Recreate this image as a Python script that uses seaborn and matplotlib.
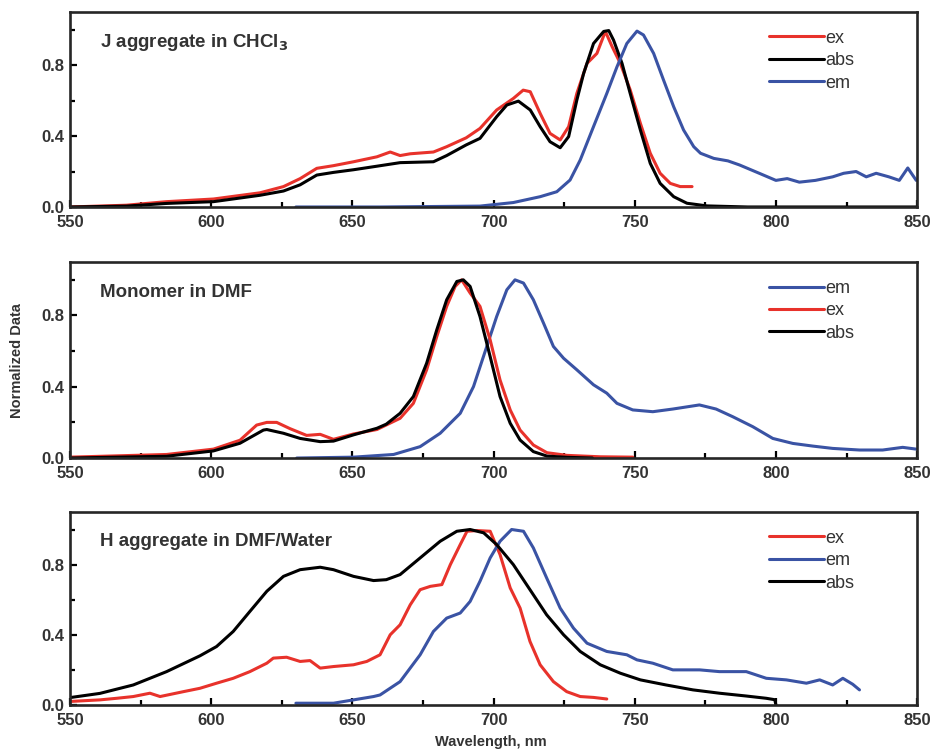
import matplotlib
matplotlib.use("Agg")
import matplotlib.pyplot as plt
from matplotlib.ticker import MultipleLocator
import seaborn as sns

# ---- Panel 1: J aggregate in CHCl3 ----
j_ex_x = [550, 570, 584.2, 600.8, 617.3, 625.6, 631.5, 637.4, 643.3, 650.4, 658.7, 663.4, 666.9, 670.5, 678.7,
          683.4, 690.3, 695.2, 701.1, 707, 710.5, 713, 716.5, 720, 723.6, 726.6, 729.5, 733.1, 736.6, 739.6,
          742, 744.9, 748.4, 752, 755.5, 759, 762.6, 766.1, 770.3]
j_ex_y = [0.0, 0.01, 0.03, 0.045, 0.08, 0.115, 0.16, 0.218, 0.233, 0.255, 0.283, 0.31, 0.29, 0.30, 0.31,
          0.34, 0.39, 0.443, 0.547, 0.612, 0.659, 0.65, 0.528, 0.415, 0.378, 0.453, 0.641, 0.81, 0.866, 0.99,
          0.904, 0.81, 0.66, 0.472, 0.303, 0.19, 0.133, 0.115, 0.115]
j_abs_x = [550, 570, 584.2, 600.8, 617.3, 625.6, 631.5, 637.4, 643.3, 650.4, 658.7, 666.9, 678.7, 683.4, 690.3,
           695.2, 701.1, 704.7, 708.8, 713, 716.5, 720, 723.6, 726.6, 729.5, 731.9, 735.4, 739, 740.8, 742.5,
           745.5, 748.4, 752, 755.5, 759, 763.8, 768.5, 775.6, 790, 850]
j_abs_y = [0.0, 0.005, 0.02, 0.03, 0.066, 0.09, 0.125, 0.18, 0.195, 0.21, 0.23, 0.25, 0.255, 0.29, 0.35,
           0.387, 0.509, 0.575, 0.597, 0.547, 0.453, 0.368, 0.334, 0.397, 0.603, 0.753, 0.922, 0.99, 0.995, 0.941,
           0.81, 0.64, 0.434, 0.246, 0.133, 0.058, 0.021, 0.006, 0.0, 0.0]
j_em_x = [630, 660, 695.2, 707, 716.5, 722.4, 727.1, 730.7, 735.4, 740.1, 743.7, 747.2, 750.8, 753.1, 756.7,
          760.2, 763.8, 767.3, 770.9, 773.3, 778, 783, 787.1, 794.1, 800, 804, 808.3, 814, 820.1, 824, 828.4,
          832, 835.5, 840, 843.7, 846.7, 849.7]
j_em_y = [0.0, 0.0, 0.005, 0.025, 0.058, 0.086, 0.152, 0.265, 0.453, 0.64, 0.79, 0.922, 0.992, 0.97, 0.866,
          0.716, 0.565, 0.434, 0.34, 0.303, 0.274, 0.26, 0.237, 0.19, 0.15, 0.16, 0.14, 0.15, 0.17, 0.19, 0.2,
          0.17, 0.19, 0.17, 0.15, 0.22, 0.15]

# ---- Panel 2: Monomer in DMF ----
m_em_x = [630.3, 650.4, 664.6, 674, 681.1, 688.2, 692.9, 697.6, 701.1, 704.7, 707.6, 710.6, 714.1, 717.7, 721.2,
          724.8, 729.5, 735.4, 740.1, 743.7, 749.3, 756.4, 763.5, 772.9, 778.8, 784.7, 791.8, 798.9, 806, 813.1,
          820.1, 829.6, 837.8, 844.9, 849.7]
m_em_y = [0.0, 0.005, 0.02, 0.064, 0.139, 0.251, 0.401, 0.626, 0.794, 0.944, 1.0, 0.982, 0.888, 0.757, 0.626,
          0.56, 0.495, 0.411, 0.364, 0.307, 0.27, 0.26, 0.275, 0.298, 0.275, 0.232, 0.176, 0.11, 0.082, 0.067,
          0.054, 0.045, 0.045, 0.06, 0.05]
m_ex_x = [550, 584.2, 600.8, 610.2, 616.1, 619.7, 623.2, 627.9, 633.8, 638.6, 643.3, 650.4, 658.7, 666.9, 671.6,
          676.3, 679.9, 683.4, 686.4, 688.7, 691.7, 695.2, 698.8, 702.3, 705.9, 709.4, 714.1, 718.9, 726, 737.8,
          749.3]
m_ex_y = [0.005, 0.02, 0.05, 0.1, 0.185, 0.2, 0.2, 0.165, 0.127, 0.133, 0.105, 0.135, 0.16, 0.223, 0.307,
          0.495, 0.682, 0.851, 0.963, 1.0, 0.926, 0.851, 0.663, 0.438, 0.27, 0.157, 0.073, 0.03, 0.015, 0.007,
          0.005]
m_abs_x = [550, 584.2, 600.8, 610.2, 618.5, 619.7, 625.6, 631.5, 638.6, 643.3, 650.4, 658.7, 662, 666.9, 671.6,
           676.3, 679.9, 683.4, 687, 689.3, 691.7, 695.2, 698.8, 702.3, 705.9, 709.4, 714.1, 718.9, 726, 735]
m_abs_y = [0.0, 0.01, 0.04, 0.083, 0.157, 0.16, 0.139, 0.11, 0.092, 0.095, 0.13, 0.167, 0.19, 0.251, 0.345,
           0.532, 0.72, 0.888, 0.991, 1.0, 0.963, 0.794, 0.569, 0.345, 0.195, 0.101, 0.036, 0.011, 0.004, 0.0]

# ---- Panel 3: H aggregate in DMF/Water ----
h_ex_x = [550, 560.6, 566.5, 572.4, 578.3, 581.9, 590.2, 596, 601.9, 607.8, 613.7, 619.7, 622, 626.7, 631.5,
          635, 638.6, 643.3, 650.4, 655.1, 659.8, 663.4, 666.9, 670.5, 674, 677.6, 681.7, 684.7, 688.2, 690.6,
          694.1, 698.8, 702.3, 705.9, 709.4, 712.9, 716.5, 721.2, 725.9, 730.7, 735.4, 740.1]
h_ex_y = [0.02, 0.029, 0.038, 0.048, 0.067, 0.048, 0.076, 0.095, 0.124, 0.152, 0.19, 0.238, 0.267, 0.272, 0.248,
          0.253, 0.21, 0.219, 0.229, 0.248, 0.286, 0.4, 0.457, 0.571, 0.657, 0.676, 0.686, 0.8, 0.914, 0.99,
          0.994, 0.99, 0.857, 0.667, 0.552, 0.362, 0.229, 0.133, 0.076, 0.048, 0.043, 0.034]
h_em_x = [630, 643.3, 650.4, 657.5, 659.8, 666.9, 674, 678.7, 683.4, 688.2, 691.7, 695.2, 698.8, 702.3, 706.4,
          710.6, 714.1, 718.8, 723.6, 728.3, 733.1, 740.1, 747.2, 750.8, 756.4, 763.5, 773, 780, 789.5, 796.6,
          803.7, 810.8, 815.5, 820.1, 823.7, 827.2, 829.6]
h_em_y = [0.01, 0.01, 0.029, 0.048, 0.057, 0.133, 0.286, 0.419, 0.495, 0.524, 0.59, 0.705, 0.838, 0.933, 1.0,
          0.99, 0.895, 0.724, 0.552, 0.438, 0.352, 0.305, 0.286, 0.257, 0.238, 0.2, 0.2, 0.19, 0.19, 0.152,
          0.143, 0.124, 0.143, 0.114, 0.152, 0.118, 0.086]
h_abs_x = [550, 560.6, 572.4, 584.2, 596, 601.9, 607.8, 613.7, 619.7, 625.6, 631.5, 638.6, 643.3, 650.4, 657.5,
           662, 666.9, 674, 681.1, 687, 691.7, 696.5, 701.1, 707, 712.9, 718.8, 724.8, 730.7, 737.8, 744.9,
           752, 761.1, 770.6, 780, 789.5, 796.6, 799.6, 800]
h_abs_y = [0.042, 0.066, 0.114, 0.19, 0.28, 0.333, 0.419, 0.533, 0.648, 0.733, 0.771, 0.785, 0.771, 0.733, 0.709,
           0.714, 0.743, 0.838, 0.933, 0.99, 1.0, 0.981, 0.914, 0.8, 0.657, 0.514, 0.4, 0.305, 0.229, 0.181,
           0.143, 0.114, 0.086, 0.067, 0.051, 0.038, 0.03, 0.0]

red = "#e8322b"
black = "#000000"
blue = "#3a53a4"
gray = "#333333"

sns.set_style("ticks")
plt.rcParams['font.family'] = ['Liberation Sans', 'DejaVu Sans']

fig = plt.figure(figsize=(9.36, 7.51), dpi=100)

# posiciones de los tres paneles (fraccion de figura)
rects = [[0.0748, 0.7244, 0.905, 0.2597],
         [0.0748, 0.3901, 0.905, 0.2610],
         [0.0748, 0.0613, 0.905, 0.2570]]

panels = [
    ("J aggregate in CHCl$_\\mathbf{3}$",
     [("ex", j_ex_x, j_ex_y, red), ("abs", j_abs_x, j_abs_y, black), ("em", j_em_x, j_em_y, blue)]),
    ("Monomer in DMF",
     [("em", m_em_x, m_em_y, blue), ("ex", m_ex_x, m_ex_y, red), ("abs", m_abs_x, m_abs_y, black)]),
    ("H aggregate in DMF/Water",
     [("ex", h_ex_x, h_ex_y, red), ("em", h_em_x, h_em_y, blue), ("abs", h_abs_x, h_abs_y, black)]),
]

for rect, (title, series) in zip(rects, panels):
    ax = fig.add_axes(rect)
    for name, xs, ys, col in series:
        sns.lineplot(x=xs, y=ys, ax=ax, color=col, label=name, linewidth=2.2,
                     sort=False, estimator=None)
    ax.set_xlim(550, 850)
    ax.set_ylim(0, 1.1)
    ax.xaxis.set_major_locator(MultipleLocator(50))
    ax.xaxis.set_minor_locator(MultipleLocator(25))
    ax.yaxis.set_major_locator(MultipleLocator(0.4))
    ax.yaxis.set_minor_locator(MultipleLocator(0.2))
    ax.tick_params(which='both', direction='in', width=1.6, colors=black,
                   labelcolor=gray, labelsize=12)
    ax.tick_params(axis='x', pad=5.5)
    ax.tick_params(axis='y', pad=4)
    ax.tick_params(which='major', length=5)
    ax.tick_params(which='minor', length=3.5)
    for lab in ax.get_xticklabels() + ax.get_yticklabels():
        lab.set_fontweight('bold')
    for sp in ax.spines.values():
        sp.set_linewidth(1.9)
        sp.set_visible(True)
    ax.set_xlabel("")
    ax.set_ylabel("")
    ax.text(0.035, 0.845, title, transform=ax.transAxes, fontsize=13.5,
            fontweight='bold', color=gray, va='center', ha='left')
    ax.legend(loc='upper left', bbox_to_anchor=(0.815, 0.955), frameon=False,
              fontsize=13, handlelength=3.0, handletextpad=0.1, labelspacing=0.3,
              borderpad=0, labelcolor=gray)

fig.text(0.018, 0.52, "Normalized Data", rotation=90, ha='center', va='center',
         fontsize=10.5, fontweight='bold', color=gray)
fig.text(0.524, 0.012, "Wavelength, nm", ha='center', va='center',
         fontsize=10.5, fontweight='bold', color=gray)

plt.savefig("out.png", dpi=100)
